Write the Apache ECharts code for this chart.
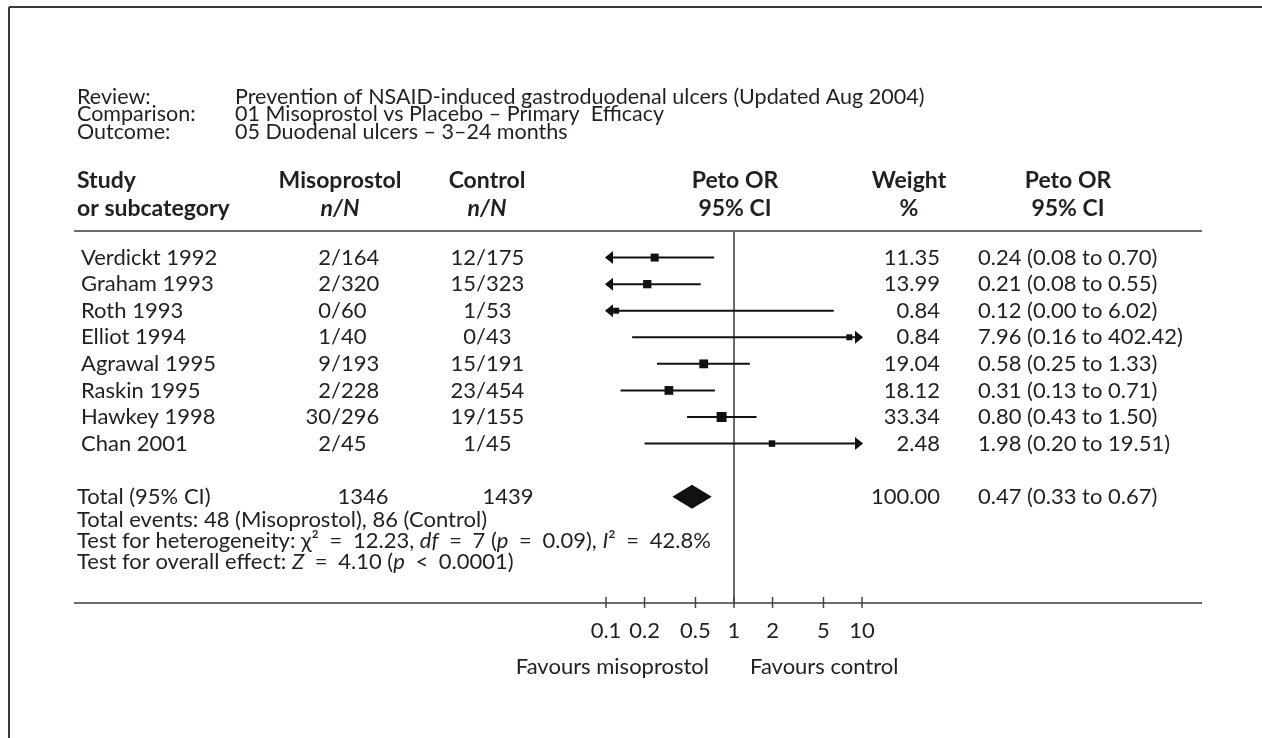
<!DOCTYPE html>
<html><head><meta charset="utf-8">
<script src="https://cdn.jsdelivr.net/npm/echarts@6/dist/echarts.min.js"></script>
<style>html,body{margin:0;padding:0;background:#fff}#c{width:1262px;height:738px}</style>
</head><body><div id="c"></div>
<script>
// ---------- data ----------
const studies = ['Verdickt 1992','Graham 1993','Roth 1993','Elliot 1994','Agrawal 1995','Raskin 1995','Hawkey 1998','Chan 2001'];
const misoEvents = [2,2,0,1,9,2,30,2];
const misoTotal  = [164,320,60,40,193,228,296,45];
const ctrlEvents = [12,15,1,0,15,23,19,1];
const ctrlTotal  = [175,323,53,43,191,454,155,45];
const weights    = [11.35,13.99,0.84,0.84,19.04,18.12,33.34,2.48];
const orValues   = [0.24,0.21,0.12,7.96,0.58,0.31,0.80,1.98];
const ciLower    = [0.08,0.08,0.00,0.16,0.25,0.13,0.43,0.20];
const ciUpper    = [0.70,0.55,6.02,402.42,1.33,0.71,1.50,19.51];
const totalWeight = 100.00;
const totalOR = 0.47, totalLower = 0.33, totalUpper = 0.67;
const tickValues = [0.1,0.2,0.5,1,2,5,10];
const tickLabels = ['0.1','0.2','0.5','1','2','5','10'];
const headerLabels = ['Review:','Comparison:','Outcome:'];
const headerTexts = ['Prevention of NSAID-induced gastroduodenal ulcers (Updated Aug 2004)',
  '01 Misoprostol vs Placebo \u2013 Primary  Efficacy',
  '05 Duodenal ulcers \u2013 3\u201324 months'];

// ---------- layout ----------
const FONT = 'Lato';
const FS = 22;
const TXT = '#231f20';
const LINE = '#6b6b6b';
const TOTAL_ROW = 9;
const COL = {study:81, total:77, misoSlash:331, ctrlSlash:476, weightRight:940, ciLeft:978, misoTot:363, ctrlTot:508};
const f2 = v => v.toFixed(2);
const sum = a => a.reduce((s,v)=>s+v,0);

const chart = echarts.init(document.getElementById('c'));

function txt(text, x, y, align, opt) {
  opt = opt || {};
  return {type:'text', x:x, y:y, silent:true, style:Object.assign({text:text, fill:TXT, align:align||'left', verticalAlign:'middle',
    fontFamily:FONT, fontSize:FS, fontWeight:'normal'}, opt)};
}

const graphics = [];
// frame
graphics.push({type:'line', shape:{x1:9,y1:7,x2:1262,y2:7}, style:{stroke:'#3a3a3a', lineWidth:2}, silent:true});
graphics.push({type:'line', shape:{x1:9,y1:7,x2:9,y2:738}, style:{stroke:'#3a3a3a', lineWidth:2}, silent:true});
// rules
graphics.push({type:'line', shape:{x1:74,y1:231,x2:1202,y2:231}, style:{stroke:LINE, lineWidth:2}, silent:true});
graphics.push({type:'line', shape:{x1:74,y1:603,x2:1202,y2:603}, style:{stroke:LINE, lineWidth:2}, silent:true});
// header block
headerLabels.forEach((t,i)=>{
  graphics.push(txt(t, 77, 97+17.5*i, 'left', {fontSize:21.5}));
  graphics.push(txt(headerTexts[i], 235, 97+17.5*i, 'left', {fontSize:21.5}));
});
const B = {fontWeight:'bold', fontSize:23};
const BI = {fontWeight:'bold', fontStyle:'italic', fontSize:23};
graphics.push(txt('Study', 77, 181, 'left', B));
graphics.push(txt('or subcategory', 77, 209, 'left', B));
graphics.push(txt('Misoprostol', 340, 181, 'center', B));
graphics.push(txt('n/N', 340, 209, 'center', BI));
graphics.push(txt('Control', 487, 181, 'center', B));
graphics.push(txt('n/N', 487, 209, 'center', BI));
graphics.push(txt('Peto OR', 735, 181, 'center', B));
graphics.push(txt('95% CI', 735, 209, 'center', B));
graphics.push(txt('Weight', 909, 181, 'center', B));
graphics.push(txt('%', 909, 209, 'center', B));
graphics.push(txt('Peto OR', 1068, 181, 'center', B));
graphics.push(txt('95% CI', 1068, 209, 'center', B));
// footer notes
const base = {fontFamily:FONT,fontSize:FS,fill:TXT};
const rich = {r:base, i:Object.assign({}, base, {fontStyle:'italic'}), q:Object.assign({}, base, {padding:[0,5,0,5]})};
graphics.push(txt('Total events: ' + sum(misoEvents) + ' (Misoprostol), ' + sum(ctrlEvents) + ' (Control)', 77, 520, 'left'));
graphics.push(txt('{r|Test for heterogeneity: \u03c7\u00b2 }{q|=}{r| 12.23, }{i|df}{r| }{q|=}{r| 7 (}{i|p}{r| }{q|=}{r| 0.09), }{i|I}{r|\u00b2 }{q|=}{r| 42.8%}', 77, 541, 'left', {rich:rich}));
graphics.push(txt('{r|Test for overall effect: }{i|Z}{r| }{q|=}{r| 4.10 (}{i|p}{r| }{q|<}{r| 0.0001)}', 77, 562, 'left', {rich:rich}));

const option = {
  animation:false,
  backgroundColor:'#ffffff',
  grid:{left:606, top:231, width:256, height:372, containLabel:false},
  xAxis:{type:'log', logBase:10, min:0.1, max:10, show:false},
  yAxis:{type:'value', min:-1, max:13, inverse:true, show:false},
  graphic:graphics,
  series:[
    // null line + favours labels
    {type:'custom', clip:false, silent:true, data:[[1,-1,13]],
      renderItem(params, api){
        const a = api.coord([api.value(0), api.value(1)]);
        const b = api.coord([api.value(0), api.value(2)]);
        return {type:'group', children:[
          {type:'line', shape:{x1:a[0],y1:a[1],x2:b[0],y2:b[1]}, style:{stroke:LINE, lineWidth:2}},
          txt('Favours misoprostol', b[0]-25, b[1]+64, 'right'),
          txt('Favours control', b[0]+16, b[1]+64, 'left')
        ]};
      }},
    // ticks and tick labels
    {type:'custom', clip:false, silent:true, data:tickValues.map((v,i)=>[v,13,i]),
      renderItem(params, api){
        const p = api.coord([api.value(0), api.value(1)]);
        return {type:'group', children:[
          {type:'line', shape:{x1:p[0],y1:p[1]-6,x2:p[0],y2:p[1]+5}, style:{stroke:'#444', lineWidth:1.5}},
          txt(tickLabels[api.value(2)], p[0], p[1]+28, 'center')
        ]};
      }},
    // study CIs with squares
    {type:'custom', clip:false, silent:true,
      data:orValues.map((v,i)=>[v,i,ciLower[i],ciUpper[i],weights[i]]),
      renderItem(params, api){
        const or = api.value(0), row = api.value(1), lo = api.value(2), hi = api.value(3), w = api.value(4);
        const lc = api.coord([Math.max(lo,0.1), row]);
        const hc = api.coord([Math.min(hi,10), row]);
        const c = api.coord([or, row]);
        const y = c[1];
        const ch = [{type:'line', shape:{x1:lc[0],y1:y,x2:hc[0],y2:y}, style:{stroke:'#111', lineWidth:2}}];
        if (lo < 0.1) ch.push({type:'polygon', shape:{points:[[lc[0]-1,y],[lc[0]+7,y-6.5],[lc[0]+7,y+6.5]]}, style:{fill:'#111'}});
        if (hi > 10) ch.push({type:'polygon', shape:{points:[[hc[0]+1,y],[hc[0]-7,y-6.5],[hc[0]-7,y+6.5]]}, style:{fill:'#111'}});
        const s = 5.2 + 0.83*Math.sqrt(w);
        ch.push({type:'rect', shape:{x:c[0]-s/2, y:y-s/2, width:s, height:s}, style:{fill:'#111'}});
        return {type:'group', children:ch};
      }},
    // pooled diamond
    {type:'custom', clip:false, silent:true, data:[[totalOR, TOTAL_ROW, totalLower, totalUpper]],
      renderItem(params, api){
        const c = api.coord([api.value(0), api.value(1)]);
        const l = api.coord([api.value(2), api.value(1)]);
        const u = api.coord([api.value(3), api.value(1)]);
        return {type:'polygon', shape:{points:[[l[0],c[1]],[c[0],c[1]-12],[u[0],c[1]],[c[0],c[1]+12]]}, style:{fill:'#111'}};
      }},
    // table text rows
    {type:'custom', clip:false, silent:true, data:studies.map((s,i)=>[1,i]),
      renderItem(params, api){
        const i = params.dataIndex;
        const y = api.coord([1, api.value(1)])[1];
        return {type:'group', children:[
          txt(studies[i], COL.study, y, 'left'),
          txt(String(misoEvents[i]), COL.misoSlash, y, 'right'),
          txt('/' + misoTotal[i], COL.misoSlash, y, 'left'),
          txt(String(ctrlEvents[i]), COL.ctrlSlash, y, 'right'),
          txt('/' + ctrlTotal[i], COL.ctrlSlash, y, 'left'),
          txt(f2(weights[i]), COL.weightRight, y, 'right'),
          txt(f2(orValues[i]) + ' (' + f2(ciLower[i]) + ' to ' + f2(ciUpper[i]) + ')', COL.ciLeft, y, 'left')
        ]};
      }},
    // total row text
    {type:'custom', clip:false, silent:true, data:[[1,TOTAL_ROW]],
      renderItem(params, api){
        const y = api.coord([1, api.value(1)])[1];
        return {type:'group', children:[
          txt('Total (95% CI)', COL.total, y, 'left'),
          txt(String(sum(misoTotal)), COL.misoTot, y, 'center'),
          txt(String(sum(ctrlTotal)), COL.ctrlTot, y, 'center'),
          txt(f2(totalWeight), COL.weightRight, y, 'right'),
          txt(f2(totalOR) + ' (' + f2(totalLower) + ' to ' + f2(totalUpper) + ')', COL.ciLeft, y, 'left')
        ]};
      }}
  ]
};
chart.setOption(option);
</script></body></html>
